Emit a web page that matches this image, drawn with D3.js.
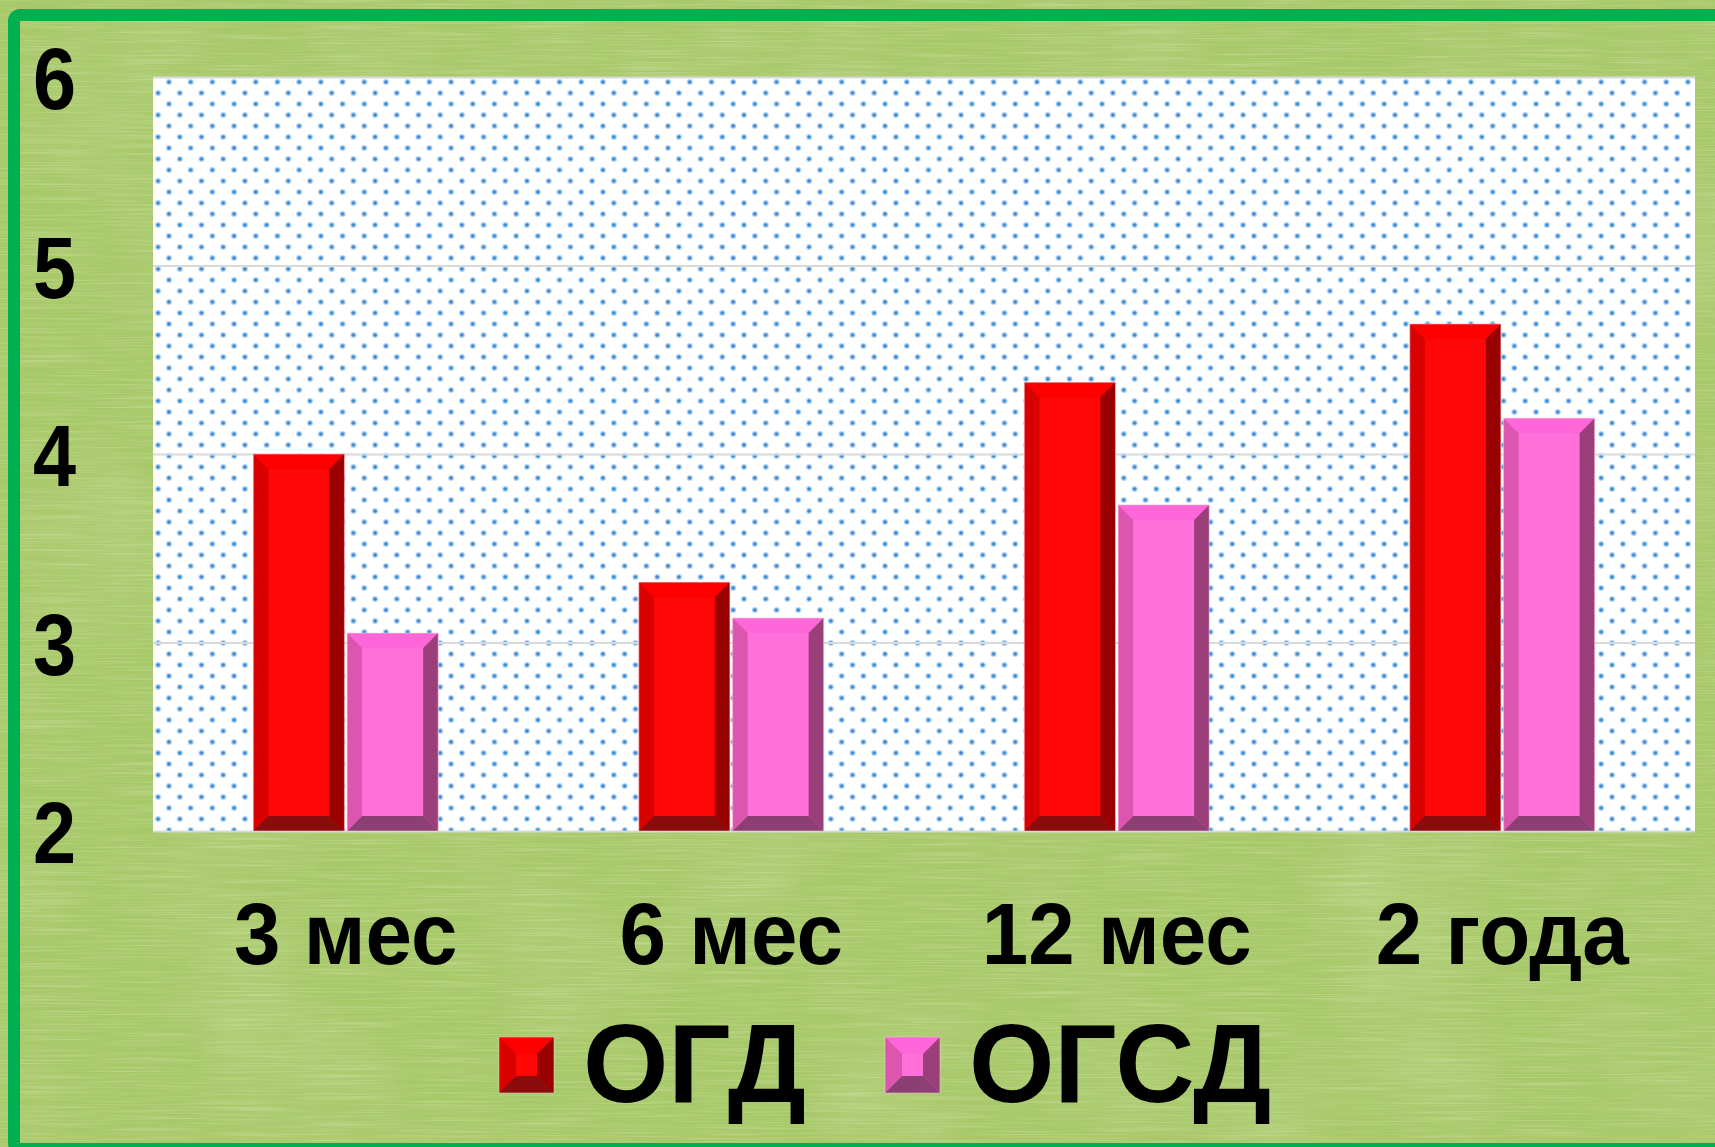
<!DOCTYPE html>
<html>
<head>
<meta charset="utf-8">
<script src="https://cdn.jsdelivr.net/npm/d3@7"></script>
<style>
  html, body { margin: 0; padding: 0; background: #a6c867; }
  svg { display: block; }
</style>
</head>
<body>
<div id="chart"></div>
<script>
// chart data
var categories = ["3 мес", "6 мес", "12 мес", "2 года"];
var seriesNames = ["ОГД", "ОГСД"];
var ogdValues = [4.0, 3.32, 4.38, 4.69];
var ogsdValues = [3.05, 3.13, 3.73, 4.19];
var yTicks = [2, 3, 4, 5, 6];

var W = 1715, H = 1147;
var margin = { top: 77, right: 20, bottom: 316, left: 153 };
var width = W - margin.left - margin.right;
var height = H - margin.top - margin.bottom;

var svg = d3.select("#chart").append("svg")
    .attr("width", W)
    .attr("height", H);

var defs = svg.append("defs");

// green paper texture
var tex = defs.append("filter").attr("id", "streaks")
    .attr("x", 0).attr("y", 0).attr("width", "100%").attr("height", "100%");
tex.append("feTurbulence")
    .attr("type", "fractalNoise")
    .attr("baseFrequency", "0.01 0.7")
    .attr("numOctaves", 2)
    .attr("seed", 4);
tex.append("feColorMatrix")
    .attr("type", "matrix")
    .attr("values", "0 0 0 0 0.88  0 0 0 0 0.95  0 0 0 0 0.72  1.1 0 0 0 -0.5");

var blotch = defs.append("filter").attr("id", "blotch")
    .attr("x", 0).attr("y", 0).attr("width", "100%").attr("height", "100%");
blotch.append("feTurbulence")
    .attr("type", "fractalNoise")
    .attr("baseFrequency", "0.006")
    .attr("numOctaves", 4)
    .attr("seed", 11);
blotch.append("feColorMatrix")
    .attr("type", "matrix")
    .attr("values", "0 0 0 0 0.5  0 0 0 0 0.66  0 0 0 0 0.25  0 1.2 0 0 -0.58");

// dotted plot fill
var dots = defs.append("pattern")
    .attr("id", "dots")
    .attr("patternUnits", "userSpaceOnUse")
    .attr("x", margin.left + 4).attr("y", margin.top + 5)
    .attr("width", 21.7).attr("height", 22);
dots.append("rect").attr("width", 21.7).attr("height", 22).attr("fill", "#ffffff");
[[0, 0], [21.7, 0], [0, 22], [21.7, 22], [10.85, 11]].forEach(function (p) {
    dots.append("circle").attr("cx", p[0]).attr("cy", p[1]).attr("r", 3).attr("fill", "#b3d4f2");
    dots.append("circle").attr("cx", p[0]).attr("cy", p[1]).attr("r", 1.8).attr("fill", "#3688d6");
});

// background
svg.append("rect").attr("width", W).attr("height", H).attr("fill", "#a8c96a");
svg.append("rect").attr("width", W).attr("height", H).attr("filter", "url(#blotch)");
svg.append("rect").attr("width", W).attr("height", H).attr("filter", "url(#streaks)").attr("opacity", 0.6);

// frame
svg.append("rect")
    .attr("x", 14).attr("y", 15)
    .attr("width", W + 40).attr("height", 1134)
    .attr("rx", 6)
    .attr("fill", "none")
    .attr("stroke", "#00b050")
    .attr("stroke-width", 12);

var g = svg.append("g").attr("transform", "translate(" + margin.left + "," + margin.top + ")");

var x0 = d3.scaleBand().domain(categories).range([0, width]);
var x1 = d3.scaleBand().domain(seriesNames).range([0, x0.bandwidth()])
    .paddingInner(0.03).paddingOuter(1.07);
var y = d3.scaleLinear().domain([2, 6]).range([height, 0]);

g.append("rect")
    .attr("width", width).attr("height", height)
    .attr("fill", "url(#dots)");

// gridlines
g.append("g")
    .attr("class", "grid")
    .call(d3.axisLeft(y).tickValues(yTicks).tickSize(-width).tickFormat(""))
    .call(function (s) { s.select(".domain").remove(); })
    .selectAll("line")
    .attr("stroke", "#d9d9d9")
    .attr("stroke-width", 2);

// bevelled bars
var palette = {
    "ОГД": { face: "#ff0707", top: "#ff0000", left: "#d90000", right: "#990000", bottom: "#8b0c0c" },
    "ОГСД": { face: "#ff70da", top: "#ff66d8", left: "#dc56b0", right: "#9b3f7b", bottom: "#8b3f73" }
};

function bevel(sel, x, yTop, w, h, c, b) {
    b = Math.min(b, h / 2, w / 2);
    sel.append("rect").attr("x", x).attr("y", yTop).attr("width", w).attr("height", h).attr("fill", c.face);
    var pts = {
        top: [[x, yTop], [x + w, yTop], [x + w - b, yTop + b], [x + b, yTop + b]],
        left: [[x, yTop], [x + b, yTop + b], [x + b, yTop + h - b], [x, yTop + h]],
        right: [[x + w, yTop], [x + w, yTop + h], [x + w - b, yTop + h - b], [x + w - b, yTop + b]],
        bottom: [[x, yTop + h], [x + b, yTop + h - b], [x + w - b, yTop + h - b], [x + w, yTop + h]]
    };
    ["top", "left", "right", "bottom"].forEach(function (k) {
        sel.append("polygon")
            .attr("points", pts[k].map(function (p) { return p.join(","); }).join(" "))
            .attr("fill", c[k]);
    });
    sel.append("rect").attr("x", x).attr("y", yTop).attr("width", w).attr("height", h)
        .attr("fill", "none").attr("stroke", "#f3c9d4").attr("stroke-width", 0.8).attr("stroke-opacity", 0.7);
}

var barData = [];
categories.forEach(function (cat, i) {
    barData.push({ cat: cat, s: "ОГД", v: ogdValues[i] });
    barData.push({ cat: cat, s: "ОГСД", v: ogsdValues[i] });
});

g.selectAll("g.bar")
    .data(barData)
    .enter().append("g")
    .attr("class", "bar")
    .each(function (d) {
        var bx = x0(d.cat) + x1(d.s);
        bevel(d3.select(this), bx, y(d.v), x1.bandwidth(), y(2) - y(d.v), palette[d.s], 15);
    });

var fontFamily = "'Liberation Sans', Arial, sans-serif";

// Y axis
var yAxis = g.append("g")
    .call(d3.axisLeft(y).tickValues(yTicks).tickSize(0).tickPadding(0).tickFormat(d3.format("d")));
yAxis.select(".domain").remove();
yAxis.selectAll("text")
    .attr("x", -77 / 0.88)
    .attr("dy", "0.36em")
    .attr("transform", "scale(0.88,1)")
    .attr("fill", "#000")
    .style("font-family", fontFamily)
    .style("font-weight", "bold")
    .style("font-size", "88px");

// X axis
var xAxis = g.append("g")
    .attr("transform", "translate(0," + height + ")")
    .call(d3.axisBottom(x0).tickSize(0));
xAxis.select(".domain").remove();
xAxis.selectAll("text")
    .attr("x", 0)
    .attr("y", 133)
    .attr("dy", 0)
    .attr("transform", "scale(0.95,1)")
    .attr("fill", "#000")
    .style("font-family", fontFamily)
    .style("font-weight", "bold")
    .style("font-size", "88px");

// legend
var legendX = [499, 885];
var legend = svg.append("g").attr("class", "legend");
seriesNames.forEach(function (name, i) {
    var lg = legend.append("g");
    bevel(lg, legendX[i], 1037, 55, 56, palette[name], 17);
    lg.append("text")
        .attr("x", (legendX[i] + 84) / 0.98)
        .attr("y", 1102)
        .attr("transform", "scale(0.98,1)")
        .attr("fill", "#000")
        .style("font-family", fontFamily)
        .style("font-weight", "bold")
        .style("font-size", "112px")
        .text(name);
});
</script>
</body>
</html>
